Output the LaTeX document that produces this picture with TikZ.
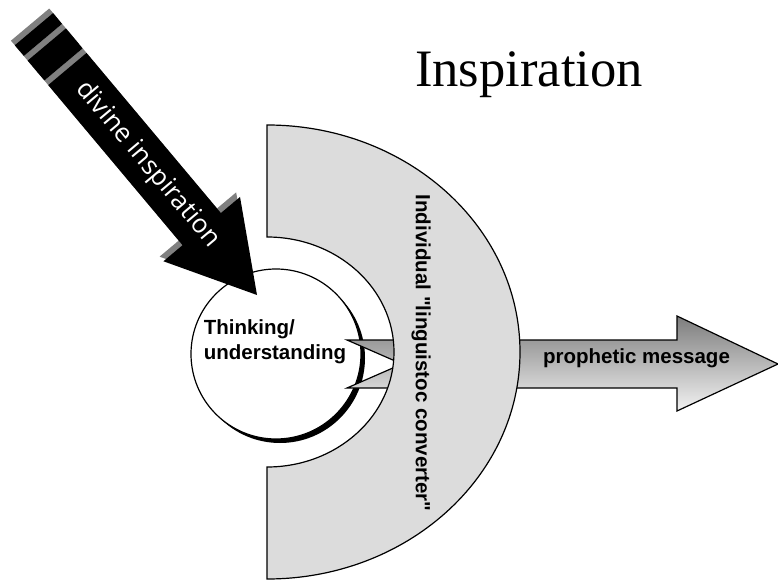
\documentclass[tikz,border=0pt]{standalone}
\usepackage{fontspec}
\setmainfont{Liberation Serif}
\newfontfamily\arialf{Liberation Sans}
\newfontfamily\humsans{Open Sans}
\usetikzlibrary{shapes.geometric}
\definecolor{ringgray}{RGB}{220,220,220}
\definecolor{shadowgray}{RGB}{128,128,128}
\definecolor{gradtop}{RGB}{125,125,125}
\definecolor{gradbot}{RGB}{242,242,242}
\tikzset{
  outl/.style={draw=black, line width=1.2pt, line join=miter},
  boldlabel/.style={font=\arialf\bfseries\fontsize{20.5}{25}\selectfont, inner sep=0pt},
}
\begin{document}
\begin{tikzpicture}[x=1pt, y=-1pt]
\useasboundingbox (0,0) rectangle (778,585);
% title
\node[font=\fontsize{52.6}{60}\selectfont, anchor=base, inner sep=0pt] (title) at (529,87) {Inspiration};
% thinking circle with shadow
\fill[black] (280,358) circle (85);
\node[circle, minimum size=170pt, inner sep=0pt, fill=white, outl] (think) at (276,354) {};
\node[boldlabel, align=left] (thinktext) at (275,342) {Thinking/\\understanding};
% prophetic message arrow
\coordinate (pa1) at (347,340);
\coordinate (pa2) at (677,340);
\coordinate (pa3) at (677,316);
\coordinate (patip) at (778,364);
\coordinate (pa5) at (677,411);
\coordinate (pa6) at (677,388);
\coordinate (pa7) at (347,388);
\coordinate (panotch) at (402,364);
\draw[outl, top color=gradtop, bottom color=gradbot] (pa1) -- (pa2) -- (pa3) -- (patip) -- (pa5) -- (pa6) -- (pa7) -- (panotch) -- cycle;
\node[boldlabel, anchor=base] (msg) at (636.5,363) {prophetic message};
% half ring converter
\draw[outl, fill=ringgray] (267,125) arc[start angle=-90, end angle=90, x radius=253, y radius=227]
   -- (267,467) arc[start angle=90, end angle=-90, x radius=127, y radius=115] -- cycle;
\node[boldlabel, rotate=-90] (conv) at (421,353) {Individual "linguistoc converter"};
% divine inspiration striped arrow
\begin{scope}[shift={(257,295)}, rotate=-50]
  \begin{scope}[xshift=-6pt]
    \fill[shadowgray] (0,0) -- (-86,50) -- (-86,25) -- (-295,25) -- (-295,-25) -- (-86,-25) -- (-86,-50) -- cycle;
    \fill[shadowgray] (-301,25) rectangle (-327,-25);
    \fill[shadowgray] (-333,25) rectangle (-347,-25);
  \end{scope}
  \fill[black] (0,0) -- (-86,50) -- (-86,25) -- (-295,25) -- (-295,-25) -- (-86,-25) -- (-86,-50) -- cycle;
  \fill[black] (-301,25) rectangle (-327,-25);
  \fill[black] (-333,25) rectangle (-347,-25);
  \node[transform shape, text=white, font=\humsans\fontsize{26}{30}\selectfont, inner sep=0pt] (divine) at (-170,0) {divine inspiration};
\end{scope}
\end{tikzpicture}
\end{document}
